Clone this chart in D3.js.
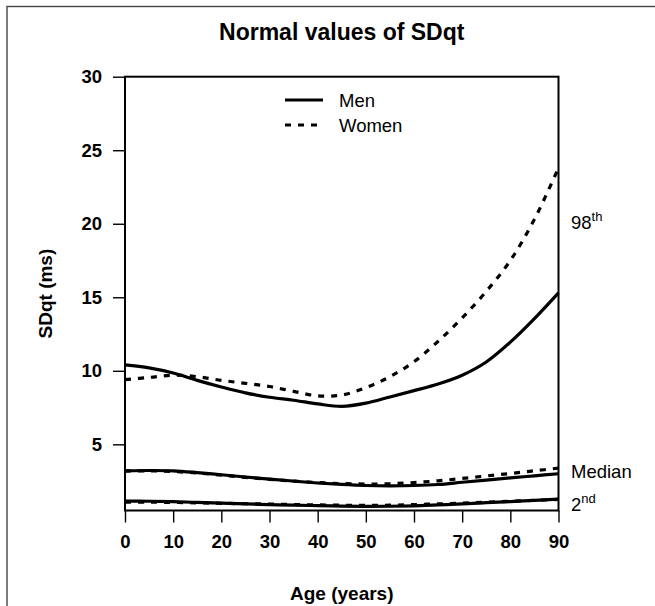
<!DOCTYPE html>
<html>
<head>
<meta charset="utf-8">
<script src="https://cdn.jsdelivr.net/npm/d3@7"></script>
<style>
  body { margin: 0; padding: 0; background: #fff; }
  svg { display: block; font-family: "Liberation Sans", Arial, sans-serif; }
</style>
</head>
<body>
<script>
// ages sampled every 5 years
const ages = [0, 5, 10, 15, 20, 25, 30, 35, 40, 45, 50, 55, 60, 65, 70, 75, 80, 85, 90];

// SDqt (ms) percentile curves
const men98 = [10.4, 10.2, 9.85, 9.35, 8.9, 8.5, 8.2, 8.0, 7.75, 7.58, 7.8, 8.22, 8.65, 9.1, 9.7, 10.6, 11.95, 13.55, 15.3];
const women98 = [9.4, 9.55, 9.7, 9.6, 9.35, 9.15, 8.93, 8.6, 8.3, 8.35, 8.85, 9.6, 10.62, 12.0, 13.6, 15.4, 17.5, 20.3, 23.8];
const menMedian = [3.2, 3.22, 3.2, 3.08, 2.93, 2.78, 2.63, 2.5, 2.37, 2.27, 2.2, 2.18, 2.2, 2.27, 2.42, 2.57, 2.72, 2.86, 3.0];
const womenMedian = [3.18, 3.2, 3.15, 3.05, 2.9, 2.75, 2.62, 2.5, 2.4, 2.33, 2.3, 2.32, 2.4, 2.52, 2.68, 2.85, 3.02, 3.2, 3.38];
const men2nd = [1.14, 1.13, 1.1, 1.05, 1.0, 0.95, 0.9, 0.86, 0.83, 0.8, 0.78, 0.79, 0.82, 0.88, 0.95, 1.03, 1.11, 1.19, 1.27];
const women2nd = [1.07, 1.07, 1.05, 1.02, 0.99, 0.96, 0.94, 0.91, 0.88, 0.86, 0.85, 0.86, 0.9, 0.95, 1.0, 1.06, 1.13, 1.19, 1.25];

const xTicks = [0, 10, 20, 30, 40, 50, 60, 70, 80, 90];
const yTicks = [5, 10, 15, 20, 25, 30];

const width = 655;
const height = 606;
const plotLeft = 125, plotRight = 558.5, plotTop = 76.7, plotBottom = 510.5;
const dash = "6,7";

const svg = d3.select("body").append("svg")
  .attr("width", width)
  .attr("height", height);

// outer frame (top + left edges visible)
svg.append("rect")
  .attr("x", 7).attr("y", 6.5)
  .attr("width", 700).attr("height", 700)
  .attr("fill", "none")
  .attr("stroke", "#444")
  .attr("stroke-width", 1.4);

const x = d3.scaleLinear().domain([0, 90]).range([plotLeft, plotRight]);
const y = d3.scaleLinear().domain([0.5, 30]).range([plotBottom, plotTop]);

const styleTicks = (g) => {
  g.select(".domain").remove();
  g.selectAll("line").attr("stroke", "#000").attr("stroke-width", 1.4);
  g.selectAll("text")
    .attr("fill", "#000")
    .style("font-size", "18.5px")
    .style("font-weight", "bold")
    .style("font-family", "'Liberation Sans', Arial, sans-serif");
};

// axes
svg.append("g")
  .attr("transform", `translate(0,${plotBottom})`)
  .call(d3.axisBottom(x).tickValues(xTicks).tickSize(12).tickPadding(12))
  .call(styleTicks);

svg.append("g")
  .attr("transform", `translate(${plotLeft},0)`)
  .call(d3.axisLeft(y).tickValues(yTicks).tickSize(12).tickPadding(11))
  .call(styleTicks);

// box
svg.append("rect")
  .attr("x", plotLeft).attr("y", plotTop)
  .attr("width", plotRight - plotLeft).attr("height", plotBottom - plotTop)
  .attr("fill", "none")
  .attr("stroke", "#000")
  .attr("stroke-width", 2);

// curves
const series = [
  { values: men98, dashed: false },
  { values: women98, dashed: true },
  { values: menMedian, dashed: false },
  { values: womenMedian, dashed: true },
  { values: men2nd, dashed: false },
  { values: women2nd, dashed: true },
];

const line = d3.line()
  .x((d) => x(d[0]))
  .y((d) => y(d[1]))
  .curve(d3.curveCatmullRom.alpha(0.5));

svg.append("g")
  .attr("fill", "none")
  .attr("stroke", "#000")
  .attr("stroke-width", 3.2)
  .selectAll("path")
  .data(series)
  .join("path")
  .attr("stroke-dasharray", (d) => (d.dashed ? dash : null))
  .attr("d", (d) => line(ages.map((a, i) => [a, d.values[i]])));

// title
svg.append("text")
  .attr("x", (plotLeft + plotRight) / 2)
  .attr("y", 40)
  .attr("text-anchor", "middle")
  .style("font-size", "23px")
  .style("font-weight", "bold")
  .text("Normal values of SDqt");

// axis titles
svg.append("text")
  .attr("x", (plotLeft + plotRight) / 2)
  .attr("y", 599.5)
  .attr("text-anchor", "middle")
  .style("font-size", "19px")
  .style("font-weight", "bold")
  .text("Age (years)");

svg.append("text")
  .attr("transform", `translate(52,${(plotTop + plotBottom) / 2}) rotate(-90)`)
  .attr("text-anchor", "middle")
  .style("font-size", "19px")
  .style("font-weight", "bold")
  .text("SDqt (ms)");

// legend
const legend = [
  { label: "Men", dashed: false, y: 100 },
  { label: "Women", dashed: true, y: 125 },
];
const lg = svg.append("g");
lg.selectAll("line")
  .data(legend)
  .join("line")
  .attr("x1", 285).attr("x2", 323)
  .attr("y1", (d) => d.y).attr("y2", (d) => d.y)
  .attr("stroke", "#000")
  .attr("stroke-width", 3.2)
  .attr("stroke-dasharray", (d) => (d.dashed ? dash : null));
lg.selectAll("text")
  .data(legend)
  .join("text")
  .attr("x", 339)
  .attr("y", (d) => d.y + 6.6)
  .style("font-size", "18.5px")
  .text((d) => d.label);

// curve labels on the right
const curveLabels = [
  { main: "98", sup: "th", y: 222 },
  { main: "Median", sup: "", y: 471.5 },
  { main: "2", sup: "nd", y: 504 },
];
curveLabels.forEach((c) => {
  const t = svg.append("text")
    .attr("x", 571)
    .attr("y", c.y + 6.6)
    .style("font-size", "18.5px")
    .text(c.main);
  if (c.sup) {
    t.append("tspan")
      .attr("dy", -8)
      .style("font-size", "13px")
      .text(c.sup);
  }
});
</script>
</body>
</html>
